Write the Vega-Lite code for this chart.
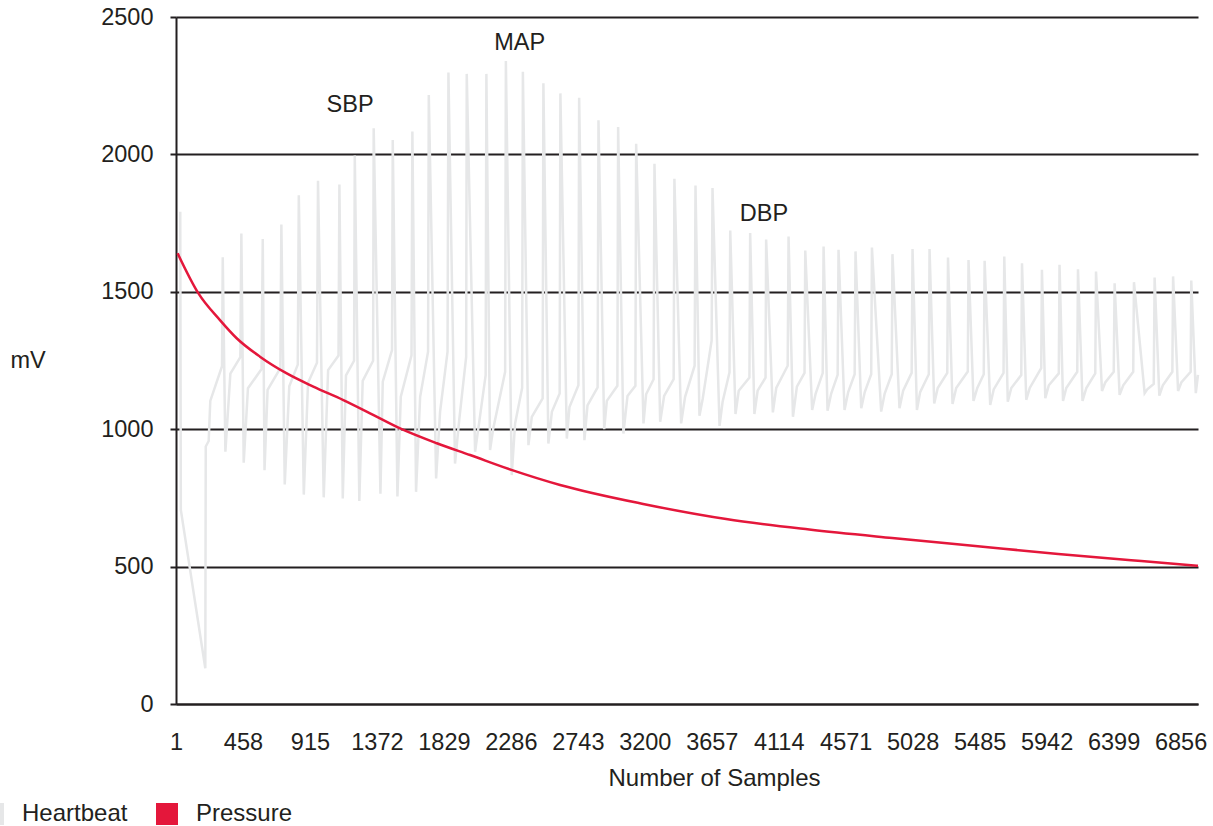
{
"$schema": "https://vega.github.io/schema/vega-lite/v6.json",
"width": 1022,
"height": 687,
"autosize": {"type": "none"},
"padding": {"left": 176, "top": 17, "right": 15, "bottom": 122},
"background": "white",
"config": {"view": {"stroke": null}, "font": "Liberation Sans"},
"datasets": {
"heartbeat": [
{"series":"Heartbeat","sample":30,"mV":1791},{"series":"Heartbeat","sample":34,"mV":706},{"series":"Heartbeat","sample":201,"mV":130},{"series":"Heartbeat","sample":204,"mV":937},{"series":"Heartbeat","sample":224,"mV":957},{"series":"Heartbeat","sample":235,"mV":1103},{"series":"Heartbeat","sample":315,"mV":1229},
{"series":"Heartbeat","sample":320,"mV":1626},{"series":"Heartbeat","sample":338,"mV":918},{"series":"Heartbeat","sample":372,"mV":1202},{"series":"Heartbeat","sample":440,"mV":1262},
{"series":"Heartbeat","sample":447,"mV":1712},{"series":"Heartbeat","sample":463,"mV":878},{"series":"Heartbeat","sample":492,"mV":1149},{"series":"Heartbeat","sample":585,"mV":1219},
{"series":"Heartbeat","sample":593,"mV":1692},{"series":"Heartbeat","sample":605,"mV":851},{"series":"Heartbeat","sample":626,"mV":1143},{"series":"Heartbeat","sample":713,"mV":1222},
{"series":"Heartbeat","sample":720,"mV":1745},{"series":"Heartbeat","sample":743,"mV":799},{"series":"Heartbeat","sample":774,"mV":1156},{"series":"Heartbeat","sample":832,"mV":1235},
{"series":"Heartbeat","sample":839,"mV":1851},{"series":"Heartbeat","sample":873,"mV":762},{"series":"Heartbeat","sample":902,"mV":1169},{"series":"Heartbeat","sample":963,"mV":1242},
{"series":"Heartbeat","sample":970,"mV":1904},{"series":"Heartbeat","sample":1009,"mV":752},{"series":"Heartbeat","sample":1039,"mV":1215},{"series":"Heartbeat","sample":1110,"mV":1268},
{"series":"Heartbeat","sample":1116,"mV":1890},{"series":"Heartbeat","sample":1139,"mV":748},{"series":"Heartbeat","sample":1161,"mV":1196},{"series":"Heartbeat","sample":1216,"mV":1249},
{"series":"Heartbeat","sample":1221,"mV":1996},{"series":"Heartbeat","sample":1252,"mV":739},{"series":"Heartbeat","sample":1275,"mV":1176},{"series":"Heartbeat","sample":1346,"mV":1249},
{"series":"Heartbeat","sample":1350,"mV":2095},{"series":"Heartbeat","sample":1396,"mV":765},{"series":"Heartbeat","sample":1412,"mV":1173},{"series":"Heartbeat","sample":1475,"mV":1288},
{"series":"Heartbeat","sample":1480,"mV":2052},{"series":"Heartbeat","sample":1512,"mV":755},{"series":"Heartbeat","sample":1535,"mV":1118},{"series":"Heartbeat","sample":1608,"mV":1269},
{"series":"Heartbeat","sample":1614,"mV":2083},{"series":"Heartbeat","sample":1639,"mV":772},{"series":"Heartbeat","sample":1667,"mV":1118},{"series":"Heartbeat","sample":1721,"mV":1282},
{"series":"Heartbeat","sample":1726,"mV":2216},{"series":"Heartbeat","sample":1776,"mV":821},{"series":"Heartbeat","sample":1803,"mV":1063},{"series":"Heartbeat","sample":1854,"mV":1282},
{"series":"Heartbeat","sample":1860,"mV":2298},{"series":"Heartbeat","sample":1905,"mV":875},{"series":"Heartbeat","sample":1933,"mV":1030},{"series":"Heartbeat","sample":1981,"mV":1263},
{"series":"Heartbeat","sample":1985,"mV":2293},{"series":"Heartbeat","sample":2042,"mV":918},{"series":"Heartbeat","sample":2066,"mV":1010},{"series":"Heartbeat","sample":2114,"mV":1197},
{"series":"Heartbeat","sample":2119,"mV":2293},{"series":"Heartbeat","sample":2144,"mV":924},{"series":"Heartbeat","sample":2165,"mV":1000},{"series":"Heartbeat","sample":2247,"mV":1209},
{"series":"Heartbeat","sample":2252,"mV":2340},{"series":"Heartbeat","sample":2292,"mV":833},{"series":"Heartbeat","sample":2315,"mV":1021},{"series":"Heartbeat","sample":2363,"mV":1150},
{"series":"Heartbeat","sample":2368,"mV":2301},{"series":"Heartbeat","sample":2406,"mV":942},{"series":"Heartbeat","sample":2429,"mV":1045},{"series":"Heartbeat","sample":2503,"mV":1112},
{"series":"Heartbeat","sample":2508,"mV":2259},{"series":"Heartbeat","sample":2542,"mV":948},{"series":"Heartbeat","sample":2566,"mV":1063},{"series":"Heartbeat","sample":2619,"mV":1130},
{"series":"Heartbeat","sample":2624,"mV":2222},{"series":"Heartbeat","sample":2668,"mV":966},{"series":"Heartbeat","sample":2686,"mV":1081},{"series":"Heartbeat","sample":2747,"mV":1160},
{"series":"Heartbeat","sample":2752,"mV":2206},{"series":"Heartbeat","sample":2788,"mV":960},{"series":"Heartbeat","sample":2809,"mV":1087},{"series":"Heartbeat","sample":2878,"mV":1152},
{"series":"Heartbeat","sample":2884,"mV":2124},{"series":"Heartbeat","sample":2923,"mV":1000},{"series":"Heartbeat","sample":2941,"mV":1103},{"series":"Heartbeat","sample":3013,"mV":1158},
{"series":"Heartbeat","sample":3018,"mV":2100},{"series":"Heartbeat","sample":3054,"mV":984},{"series":"Heartbeat","sample":3082,"mV":1121},{"series":"Heartbeat","sample":3136,"mV":1158},
{"series":"Heartbeat","sample":3141,"mV":2039},{"series":"Heartbeat","sample":3191,"mV":1021},{"series":"Heartbeat","sample":3209,"mV":1127},{"series":"Heartbeat","sample":3260,"mV":1182},
{"series":"Heartbeat","sample":3266,"mV":1966},{"series":"Heartbeat","sample":3305,"mV":1027},{"series":"Heartbeat","sample":3332,"mV":1121},{"series":"Heartbeat","sample":3397,"mV":1182},
{"series":"Heartbeat","sample":3402,"mV":1911},{"series":"Heartbeat","sample":3448,"mV":1021},{"series":"Heartbeat","sample":3475,"mV":1118},{"series":"Heartbeat","sample":3540,"mV":1231},
{"series":"Heartbeat","sample":3546,"mV":1887},{"series":"Heartbeat","sample":3573,"mV":1049},{"series":"Heartbeat","sample":3595,"mV":1110},{"series":"Heartbeat","sample":3656,"mV":1322},
{"series":"Heartbeat","sample":3662,"mV":1878},{"series":"Heartbeat","sample":3710,"mV":1012},{"series":"Heartbeat","sample":3731,"mV":1100},{"series":"Heartbeat","sample":3778,"mV":1207},
{"series":"Heartbeat","sample":3783,"mV":1723},{"series":"Heartbeat","sample":3819,"mV":1055},{"series":"Heartbeat","sample":3841,"mV":1140},{"series":"Heartbeat","sample":3914,"mV":1188},
{"series":"Heartbeat","sample":3919,"mV":1714},{"series":"Heartbeat","sample":3948,"mV":1055},{"series":"Heartbeat","sample":3970,"mV":1140},{"series":"Heartbeat","sample":4024,"mV":1188},
{"series":"Heartbeat","sample":4028,"mV":1690},{"series":"Heartbeat","sample":4074,"mV":1061},{"series":"Heartbeat","sample":4097,"mV":1150},{"series":"Heartbeat","sample":4175,"mV":1231},
{"series":"Heartbeat","sample":4181,"mV":1701},{"series":"Heartbeat","sample":4211,"mV":1045},{"series":"Heartbeat","sample":4238,"mV":1155},{"series":"Heartbeat","sample":4290,"mV":1205},
{"series":"Heartbeat","sample":4295,"mV":1650},{"series":"Heartbeat","sample":4342,"mV":1070},{"series":"Heartbeat","sample":4366,"mV":1130},{"series":"Heartbeat","sample":4414,"mV":1204},
{"series":"Heartbeat","sample":4420,"mV":1665},{"series":"Heartbeat","sample":4447,"mV":1067},{"series":"Heartbeat","sample":4472,"mV":1130},{"series":"Heartbeat","sample":4516,"mV":1198},
{"series":"Heartbeat","sample":4522,"mV":1653},{"series":"Heartbeat","sample":4563,"mV":1070},{"series":"Heartbeat","sample":4588,"mV":1135},{"series":"Heartbeat","sample":4632,"mV":1200},
{"series":"Heartbeat","sample":4638,"mV":1647},{"series":"Heartbeat","sample":4677,"mV":1076},{"series":"Heartbeat","sample":4701,"mV":1135},{"series":"Heartbeat","sample":4745,"mV":1200},
{"series":"Heartbeat","sample":4750,"mV":1661},{"series":"Heartbeat","sample":4813,"mV":1064},{"series":"Heartbeat","sample":4837,"mV":1130},{"series":"Heartbeat","sample":4885,"mV":1200},
{"series":"Heartbeat","sample":4890,"mV":1637},{"series":"Heartbeat","sample":4938,"mV":1076},{"series":"Heartbeat","sample":4963,"mV":1140},{"series":"Heartbeat","sample":5021,"mV":1205},
{"series":"Heartbeat","sample":5027,"mV":1656},{"series":"Heartbeat","sample":5057,"mV":1070},{"series":"Heartbeat","sample":5079,"mV":1135},{"series":"Heartbeat","sample":5138,"mV":1200},
{"series":"Heartbeat","sample":5143,"mV":1656},{"series":"Heartbeat","sample":5175,"mV":1094},{"series":"Heartbeat","sample":5199,"mV":1150},{"series":"Heartbeat","sample":5264,"mV":1205},
{"series":"Heartbeat","sample":5269,"mV":1625},{"series":"Heartbeat","sample":5300,"mV":1092},{"series":"Heartbeat","sample":5325,"mV":1150},{"series":"Heartbeat","sample":5404,"mV":1210},
{"series":"Heartbeat","sample":5409,"mV":1616},{"series":"Heartbeat","sample":5443,"mV":1103},{"series":"Heartbeat","sample":5469,"mV":1150},{"series":"Heartbeat","sample":5513,"mV":1200},
{"series":"Heartbeat","sample":5519,"mV":1613},{"series":"Heartbeat","sample":5557,"mV":1088},{"series":"Heartbeat","sample":5581,"mV":1145},{"series":"Heartbeat","sample":5648,"mV":1205},
{"series":"Heartbeat","sample":5653,"mV":1628},{"series":"Heartbeat","sample":5677,"mV":1100},{"series":"Heartbeat","sample":5701,"mV":1150},{"series":"Heartbeat","sample":5769,"mV":1197},
{"series":"Heartbeat","sample":5774,"mV":1604},{"series":"Heartbeat","sample":5803,"mV":1107},{"series":"Heartbeat","sample":5827,"mV":1150},{"series":"Heartbeat","sample":5905,"mV":1222},
{"series":"Heartbeat","sample":5910,"mV":1580},{"series":"Heartbeat","sample":5933,"mV":1113},{"series":"Heartbeat","sample":5957,"mV":1160},{"series":"Heartbeat","sample":6025,"mV":1203},
{"series":"Heartbeat","sample":6030,"mV":1598},{"series":"Heartbeat","sample":6054,"mV":1103},{"series":"Heartbeat","sample":6076,"mV":1150},{"series":"Heartbeat","sample":6151,"mV":1209},
{"series":"Heartbeat","sample":6156,"mV":1582},{"series":"Heartbeat","sample":6187,"mV":1103},{"series":"Heartbeat","sample":6213,"mV":1150},{"series":"Heartbeat","sample":6274,"mV":1203},
{"series":"Heartbeat","sample":6279,"mV":1574},{"series":"Heartbeat","sample":6320,"mV":1139},{"series":"Heartbeat","sample":6342,"mV":1170},{"series":"Heartbeat","sample":6400,"mV":1209},
{"series":"Heartbeat","sample":6406,"mV":1531},{"series":"Heartbeat","sample":6440,"mV":1125},{"series":"Heartbeat","sample":6465,"mV":1160},{"series":"Heartbeat","sample":6533,"mV":1209},
{"series":"Heartbeat","sample":6538,"mV":1535},{"series":"Heartbeat","sample":6611,"mV":1131},{"series":"Heartbeat","sample":6629,"mV":1145},{"series":"Heartbeat","sample":6673,"mV":1165},
{"series":"Heartbeat","sample":6679,"mV":1552},{"series":"Heartbeat","sample":6711,"mV":1122},{"series":"Heartbeat","sample":6735,"mV":1160},{"series":"Heartbeat","sample":6800,"mV":1209},
{"series":"Heartbeat","sample":6805,"mV":1556},{"series":"Heartbeat","sample":6839,"mV":1139},{"series":"Heartbeat","sample":6861,"mV":1170},{"series":"Heartbeat","sample":6925,"mV":1209},
{"series":"Heartbeat","sample":6929,"mV":1541},{"series":"Heartbeat","sample":6960,"mV":1131},{"series":"Heartbeat","sample":6975,"mV":1198}
],
"pressure": [
{"series":"Pressure","sample":12,"mV":1640},{"series":"Pressure","sample":153,"mV":1495},{"series":"Pressure","sample":301,"mV":1397},{"series":"Pressure","sample":415,"mV":1331},
{"series":"Pressure","sample":574,"mV":1264},{"series":"Pressure","sample":757,"mV":1203},{"series":"Pressure","sample":938,"mV":1155},{"series":"Pressure","sample":1143,"mV":1106},
{"series":"Pressure","sample":1325,"mV":1058},{"series":"Pressure","sample":1530,"mV":1003},{"series":"Pressure","sample":1781,"mV":949},{"series":"Pressure","sample":2008,"mV":906},
{"series":"Pressure","sample":2295,"mV":851},{"series":"Pressure","sample":2622,"mV":797},{"series":"Pressure","sample":3189,"mV":728},{"series":"Pressure","sample":3755,"mV":673},
{"series":"Pressure","sample":4322,"mV":635},{"series":"Pressure","sample":4888,"mV":604},{"series":"Pressure","sample":5455,"mV":575},{"series":"Pressure","sample":6021,"mV":546},
{"series":"Pressure","sample":6588,"mV":520},{"series":"Pressure","sample":6975,"mV":503}
],
"labels": [
{"label":"SBP","sample":1189,"mV":2153},
{"label":"MAP","sample":2346,"mV":2380},
{"label":"DBP","sample":4013,"mV":1757}
]
},
"encoding": {
"x": {"field":"sample","type":"quantitative",
  "scale":{"domain":[1,6975],"nice":false,"zero":false},
  "axis":{"values":[1,458,915,1372,1829,2286,2743,3200,3657,4114,4571,5028,5485,5942,6399,6856],"format":"d",
    "grid":false,"ticks":false,"tickSize":0,"labelPadding":26,"labelFontSize":23.5,"labelColor":"#231f20",
    "labelFont":"Liberation Sans","labelFlush":false,"labelOverlap":false,"labelBound":false,
    "domainColor":"#231f20","domainWidth":2,
    "title":"Number of Samples","titleFont":"Liberation Sans","titleFontSize":24,"titleFontWeight":"normal","titleColor":"#231f20",
    "titleX":538,"titleY":81,"titleBaseline":"alphabetic","titleAlign":"center"}},
"y": {"field":"mV","type":"quantitative",
  "scale":{"domain":[0,2500],"nice":false},
  "axis":{"values":[0,500,1000,1500,2000,2500],"format":"d","grid":true,"gridColor":"#231f20","gridWidth":2,"gridOpacity":1,
    "ticks":true,"tickColor":"#231f20","tickWidth":2,"tickSize":6,"labelPadding":17,"labelFontSize":23.5,"labelColor":"#231f20",
    "labelFont":"Liberation Sans","labelFlush":false,
    "domainColor":"#231f20","domainWidth":2,
    "title":"mV","titleFont":"Liberation Sans","titleFontSize":23.5,"titleFontWeight":"normal","titleColor":"#231f20",
    "titleAngle":0,"titleAlign":"left","titleBaseline":"alphabetic","titleX":-166,"titleY":350}}
},
"layer": [
{"data":{"name":"heartbeat"},
 "mark":{"type":"line","strokeWidth":2.5},
 "encoding":{"color":{"field":"series","type":"nominal",
   "scale":{"domain":["Heartbeat","Pressure"],"range":["#e6e7e8","#e4173b"]},
   "legend":{"orient":"none","legendX":-195,"legendY":785,"direction":"horizontal","title":null,
     "symbolType":"square","symbolSize":484,"symbolStrokeWidth":0,"labelFontSize":24,"labelColor":"#231f20",
     "labelFont":"Liberation Sans","labelOffset":17,"columnPadding":27,"padding":0,
     "encode":{"symbols":{"update":{"fill":{"scale":"color","field":"value"},"fillOpacity":{"value":1},"strokeWidth":{"value":0}}}}}}}},
{"data":{"name":"pressure"},
 "mark":{"type":"line","strokeWidth":2.5,"interpolate":"monotone"},
 "encoding":{"color":{"field":"series","type":"nominal"}}},
{"data":{"name":"labels"},
 "mark":{"type":"text","fontSize":23.5,"font":"Liberation Sans","color":"#231f20","align":"center","baseline":"alphabetic"},
 "encoding":{"text":{"field":"label"}}}
]
}
